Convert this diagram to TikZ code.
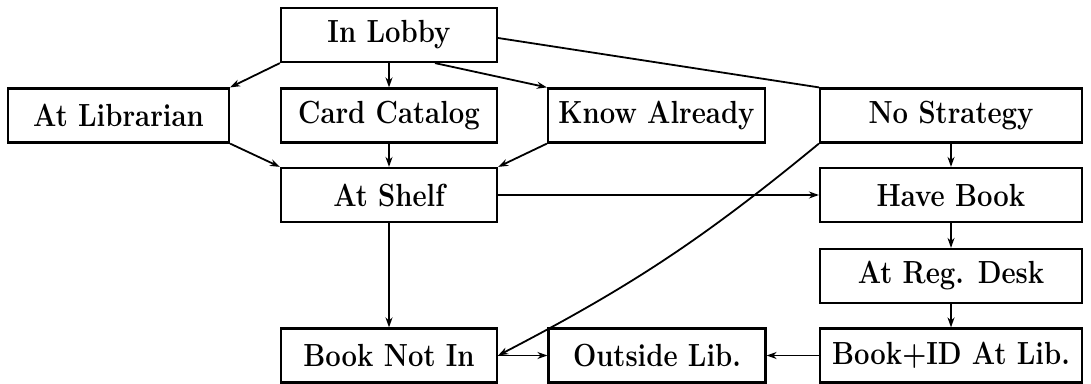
\documentclass[tikz,border=0pt]{standalone}
\usepackage{graphicx}
\usetikzlibrary{arrows.meta}
\newcommand{\lbl}[1]{\scalebox{0.86}[1]{#1}}
\begin{document}
\begin{tikzpicture}[x=0.5pt,y=-0.5pt,
  box/.style={draw, line width=1.1pt, minimum height=27pt, inner sep=0pt,
    font=\fontsize{16}{19}\selectfont\bfseries},
  colA/.style={box, minimum width=110.5pt},
  colB/.style={box, minimum width=108pt},
  colC/.style={box, minimum width=108.5pt},
  colD/.style={box, minimum width=131pt},
  conn/.style={line width=0.9pt},
  arr/.style={conn, -{Stealth[length=5pt,width=3.5pt]}}]
\useasboundingbox (0,0) rectangle (1091,384);
\node[colB] (lobby) at (389,35) {\lbl{In Lobby}};
\node[colA] (lib) at (118.5,115.5) {\lbl{At Librarian}};
\node[colB] (card) at (389,115.5) {\lbl{Card Catalog}};
\node[colC] (know) at (656.5,115.5) {\lbl{Know Already}};
\node[colD] (nostrat) at (951,115.5) {\lbl{No Strategy}};
\node[colB] (shelf) at (389,195) {\lbl{At Shelf}};
\node[colD] (have) at (951,195) {\lbl{Have Book}};
\node[colD] (reg) at (951,276) {\lbl{At Reg. Desk}};
\node[colB] (notin) at (389,355.5) {\lbl{Book Not In}};
\node[colC] (outside) at (657,355.5) {\lbl{Outside Lib.}};
\node[colD] (bookid) at (951,355.5) {\lbl{Book+ID At Lib.}};
\draw[arr] (lobby.south west) -- (lib.north east);
\draw[arr] (lobby.south) -- (card.north);
\draw[arr] ([xshift=23pt]lobby.south) -- (know.north west);
\draw[conn] ([yshift=-1.5pt]lobby.east) -- (nostrat.north west);
\draw[arr] (lib.south east) -- (shelf.north west);
\draw[arr] (card.south) -- (shelf.north);
\draw[arr] (know.south west) -- (shelf.north east);
\draw[arr] (nostrat.south) -- (have.north);
\draw[arr] (shelf.east) -- (have.west);
\draw[arr] (nostrat.south west) to[bend left=6] (notin.east);
\draw[arr] (shelf.south) -- (notin.north);
\draw[arr] (have.south) -- (reg.north);
\draw[arr] (reg.south) -- (bookid.north);
\draw[arr] (notin.east) -- (outside.west);
\draw[arr] (bookid.west) -- (outside.east);
\end{tikzpicture}
\end{document}
